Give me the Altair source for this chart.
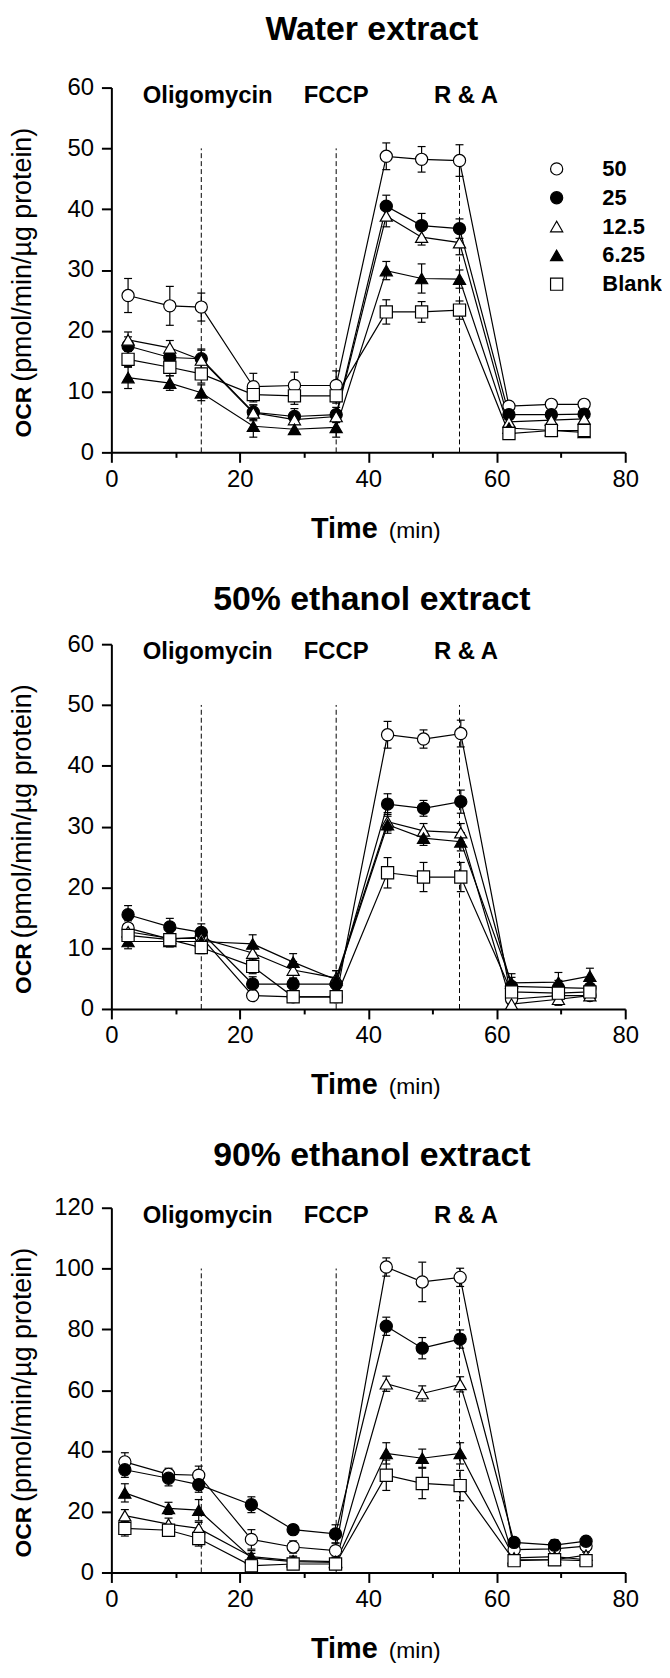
import altair as alt
import pandas as pd

FONT = "Liberation Sans, Arial, sans-serif"

# ---------------- data ----------------
series_names = ["50", "25", "12.5", "6.25", "Blank"]
series_shapes = ["circle", "circle", "triangle-up", "triangle-up", "square"]
series_fills = ["white", "black", "white", "black", "white"]
series_strokes = ["black", "black", "black", "black", "black"]
series_sizes = [150, 150, 230, 230, 160]

panel_titles = ["Water extract", "50% ethanol extract", "90% ethanol extract"]
injection_labels = ["Oligomycin", "FCCP", "R & A"]
injection_label_x = [15.0, 35.0, 55.2]
injection_times = [14.0, 35.0, 54.2]
injection_top = [50, 50, 100]
y_max = [60, 60, 120]
y_step = [10, 10, 20]
x_ticks = [0, 10, 20, 30, 40, 50, 60, 70, 80]
y_title_main = "OCR"
y_title_unit = "(pmol/min/µg protein)"
x_title_main = "Time"
x_title_unit = "(min)"

# Panel 1: Water extract
time_p1 = [2.6, 9.1, 14.0, 22.1, 28.5, 35.0, 42.8, 48.3, 54.2, 61.9, 68.5, 73.6]
water_50 = [25.8, 24.1, 23.9, 10.8, 11.0, 11.0, 48.7, 48.2, 48.0, 7.6, 7.9, 7.9]
water_25 = [17.5, 15.6, 15.4, 6.6, 5.9, 6.2, 40.5, 37.3, 36.8, 6.2, 6.2, 6.3]
water_12 = [18.5, 17.2, 15.2, 6.5, 5.4, 5.9, 38.9, 35.4, 34.5, 5.0, 5.3, 5.5]
water_6 = [12.3, 11.4, 9.8, 4.3, 3.8, 4.1, 29.9, 28.6, 28.5, 4.0, 3.6, 3.3]
water_blank = [15.3, 14.0, 12.9, 9.5, 9.3, 9.3, 23.1, 23.1, 23.4, 3.1, 3.6, 3.6]
water_50_err = [2.8, 3.2, 2.3, 2.2, 2.2, 2.4, 2.2, 2.1, 2.6, 0.6, 0.6, 0.6]
water_25_err = [1.5, 1.2, 1.6, 1.2, 1.3, 1.2, 1.8, 2.0, 1.6, 0.8, 0.6, 0.6]
water_12_err = [1.3, 1.2, 1.6, 1.3, 0.8, 1.0, 1.8, 1.3, 2.0, 0.6, 0.6, 0.6]
water_6_err = [1.8, 1.2, 1.3, 1.8, 0.8, 1.6, 1.5, 2.4, 1.5, 0.6, 0.6, 0.8]
water_blank_err = [1.3, 1.4, 1.5, 1.2, 1.4, 1.2, 2.0, 1.7, 1.5, 0.6, 0.5, 0.5]

# Panel 2: 50% ethanol extract
time_p2 = [2.6, 9.1, 14.0, 22.0, 28.3, 35.0, 43.0, 48.6, 54.4, 62.3, 69.6, 74.5]
eth50_50 = [13.3, 11.5, 11.8, 2.2, 2.0, 2.0, 45.1, 44.4, 45.3, 1.6, 2.2, 2.2]
eth50_25 = [15.5, 13.5, 12.6, 4.1, 4.1, 4.1, 33.7, 33.0, 34.1, 3.7, 3.5, 3.4]
eth50_12 = [12.7, 11.6, 11.6, 9.2, 6.4, 5.1, 30.8, 29.3, 29.0, 0.8, 1.6, 2.2]
eth50_6 = [11.1, 11.1, 11.1, 10.7, 7.7, 4.8, 30.3, 28.1, 27.5, 4.3, 4.4, 5.4]
eth50_blank = [12.1, 11.4, 10.1, 7.0, 2.0, 2.0, 22.4, 21.7, 21.7, 2.8, 2.6, 2.8]
eth50_50_err = [1.2, 1.0, 1.0, 0.8, 0.8, 0.8, 2.2, 1.5, 2.2, 0.8, 0.8, 0.6]
eth50_25_err = [1.5, 1.4, 1.4, 1.2, 1.0, 1.0, 1.7, 1.3, 1.9, 1.5, 1.2, 1.2]
eth50_12_err = [1.0, 0.8, 0.8, 1.2, 1.4, 1.2, 1.5, 1.2, 1.5, 0.8, 1.0, 0.6]
eth50_6_err = [1.2, 0.9, 0.9, 1.5, 1.4, 1.5, 1.4, 1.2, 1.5, 1.5, 1.6, 1.3]
eth50_blank_err = [1.0, 1.0, 1.0, 1.2, 0.8, 0.8, 2.5, 2.4, 2.4, 0.8, 0.8, 0.8]

# Panel 3: 90% ethanol extract
time_p3 = [2.1, 8.9, 13.6, 21.8, 28.3, 34.9, 42.8, 48.4, 54.3, 62.7, 69.0, 73.9]
eth90_50 = [36.4, 32.3, 32.0, 10.9, 8.4, 7.2, 100.5, 95.6, 97.1, 7.5, 7.8, 8.7]
eth90_25 = [33.8, 31.0, 28.9, 22.3, 14.1, 12.7, 81.0, 73.8, 76.8, 9.9, 9.0, 10.3]
eth90_12 = [18.7, 15.9, 14.5, 5.2, 3.9, 3.6, 62.1, 58.9, 61.9, 4.2, 4.2, 5.7]
eth90_6 = [26.2, 21.1, 20.5, 4.8, 3.6, 3.3, 39.2, 37.6, 39.2, 4.8, 5.2, 4.2]
eth90_blank = [14.5, 13.9, 11.2, 2.2, 2.8, 2.8, 32.0, 29.3, 28.6, 3.9, 4.2, 3.9]
eth90_50_err = [3.0, 2.0, 3.0, 3.2, 2.0, 2.5, 3.0, 6.5, 3.0, 2.0, 3.0, 2.0]
eth90_25_err = [2.5, 2.5, 2.5, 2.6, 1.5, 3.0, 3.0, 3.5, 3.0, 1.5, 1.5, 1.5]
eth90_12_err = [2.0, 2.0, 2.0, 2.0, 1.5, 1.5, 2.5, 2.5, 2.5, 1.5, 1.5, 1.5]
eth90_6_err = [3.0, 2.0, 3.5, 1.5, 1.5, 1.5, 3.5, 3.0, 3.5, 1.5, 1.5, 1.5]
eth90_blank_err = [2.5, 2.0, 2.5, 1.0, 1.0, 1.0, 5.0, 5.0, 5.0, 1.0, 1.0, 1.0]

panels = [
    (time_p1, [water_50, water_25, water_12, water_6, water_blank],
     [water_50_err, water_25_err, water_12_err, water_6_err, water_blank_err]),
    (time_p2, [eth50_50, eth50_25, eth50_12, eth50_6, eth50_blank],
     [eth50_50_err, eth50_25_err, eth50_12_err, eth50_6_err, eth50_blank_err]),
    (time_p3, [eth90_50, eth90_25, eth90_12, eth90_6, eth90_blank],
     [eth90_50_err, eth90_25_err, eth90_12_err, eth90_6_err, eth90_blank_err]),
]

# ---------------- layout ----------------
W, H = 517, 367
title_baseline = [-48, -34.1, -41.7]
legend_y = [70.8, 100.7, 76.9]


def make_panel(k):
    times, vals, errs = panels[k]
    rows = []
    for s, v_list, e_list in zip(series_names, vals, errs):
        for t, v, e in zip(times, v_list, e_list):
            rows.append({"time": t, "ocr": v, "series": s,
                         "lo": max(v - e, 0), "hi": v + e})
    df = pd.DataFrame(rows)

    xs = alt.Scale(domain=[0, 80], nice=False)
    ys = alt.Scale(domain=[0, y_max[k]], nice=False)
    x_axis = alt.Axis(values=x_ticks, labelExpr="datum.value % 20 == 0 ? datum.label : ''",
                      tickSize=alt.condition("datum.value % 20 == 0", alt.value(10), alt.value(5)),
                      labelPadding=5, labelAngle=0, labelFlush=False, title=None)
    y_axis = alt.Axis(values=list(range(0, y_max[k] + 1, y_step[k])), tickSize=10,
                      labelPadding=8, labelFlush=False, title=None)

    def X(field):
        return alt.X(field, type="quantitative", scale=xs, axis=x_axis)

    def Y(field):
        return alt.Y(field, type="quantitative", scale=ys, axis=y_axis)

    inj = pd.DataFrame({"time": injection_times, "base": [0] * 3,
                        "top": [injection_top[k]] * 3})
    rules = alt.Chart(inj).mark_rule(strokeDash=[5, 3], color="black", strokeWidth=1).encode(
        x=X("time"), y=Y("base"), y2="top:Q")

    lab = pd.DataFrame({"lx": injection_label_x, "label": injection_labels})
    drug = alt.Chart(lab).mark_text(font=FONT, fontSize=24, fontWeight="bold", color="black",
                                    baseline="alphabetic", align="center").encode(
        x=X("lx"), y=alt.value(15), text="label:N")

    lines = alt.Chart(df).mark_line(color="black", strokeWidth=1.2).encode(
        x=X("time"), y=Y("ocr"), detail="series:N", order="time:Q")

    ebar = alt.Chart(df).mark_rule(color="black", strokeWidth=1.2).encode(
        x=X("time"), y=Y("lo"), y2="hi:Q")
    cap_lo = alt.Chart(df).mark_tick(orient="horizontal", size=8, thickness=1.2,
                                     color="black", opacity=1).encode(x=X("time"), y=Y("lo"))
    cap_hi = alt.Chart(df).mark_tick(orient="horizontal", size=8, thickness=1.2,
                                     color="black", opacity=1).encode(x=X("time"), y=Y("hi"))

    leg = alt.Legend(orient="none", legendX=437, legendY=legend_y[k])
    points = alt.Chart(df).mark_point(filled=False, strokeWidth=1.2, opacity=1).encode(
        x=X("time"), y=Y("ocr"),
        shape=alt.Shape("series:N", scale=alt.Scale(domain=series_names, range=series_shapes),
                        legend=leg, title=None),
        fill=alt.Fill("series:N", scale=alt.Scale(domain=series_names, range=series_fills),
                      legend=leg, title=None),
        stroke=alt.Stroke("series:N", scale=alt.Scale(domain=series_names, range=series_strokes),
                          legend=leg, title=None),
        size=alt.Size("series:N", scale=alt.Scale(domain=series_names, range=series_sizes),
                      legend=leg, title=None),
    )

    def txt(s, x, y, size, weight="normal", align="center", angle=0):
        return alt.Chart(pd.DataFrame({"t": [s]})).mark_text(
            font=FONT, fontSize=size, fontWeight=weight, color="black", align=align,
            baseline="alphabetic", angle=angle).encode(
            text="t:N", x=alt.value(x), y=alt.value(y))

    title = txt(panel_titles[k], 262, title_baseline[k], 34, "bold")
    yt1 = txt(y_title_main, -81, 352, 23, "bold", "left", 270)
    yt2 = txt(y_title_unit, -81, 296, 27, "normal", "left", 270)
    xt1 = txt(x_title_main, 268, 453, 29, "bold", "right")
    xt2 = txt(x_title_unit, 279, 453, 23, "normal", "left")

    return alt.layer(rules, drug, lines, ebar, cap_lo, cap_hi, points,
                     title, yt1, yt2, xt1, xt2).properties(width=W, height=H)


chart = alt.vconcat(make_panel(0), make_panel(1), make_panel(2), spacing=39).properties(
    padding=0
).configure_view(stroke=None).configure_axis(
    domainColor="black", domainWidth=2, tickColor="black", tickWidth=2,
    labelFont=FONT, labelFontSize=24, labelColor="black", grid=False
).configure_legend(
    labelFont=FONT, labelFontSize=22, labelFontWeight="bold", labelColor="black",
    labelOffset=35, rowPadding=7, padding=0, symbolStrokeWidth=1.2, symbolOpacity=1
)

chart.save("out.html", embed_options={"renderer": "svg", "actions": False})
